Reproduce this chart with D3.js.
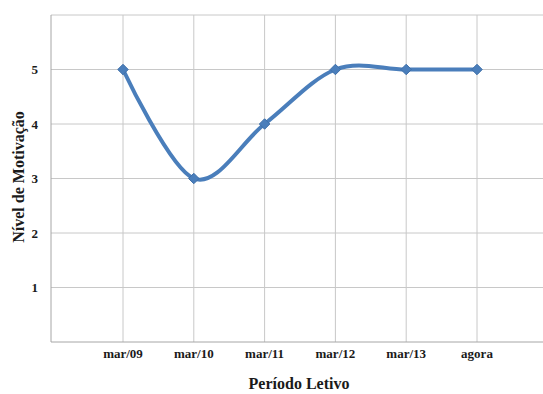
<!DOCTYPE html>
<html>
<head>
<meta charset="utf-8">
<script src="https://cdn.jsdelivr.net/npm/d3@7"></script>
<style>
  html, body { margin: 0; padding: 0; background: #fff; }
  svg { display: block; }
</style>
</head>
<body>
<svg id="chart" width="543" height="394"></svg>
<script>
// Motivation level per school period
const periods = ["mar/09", "mar/10", "mar/11", "mar/12", "mar/13", "agora"];
const motivation = [5, 3, 4, 5, 5, 5];
const yTicks = [1, 2, 3, 4, 5];
const yMax = 6;

const FONT = "Liberation Serif";
const svg = d3.select("#chart");
const plot = { left: 51, top: 15, right: 560, bottom: 342 };

const x = d3.scalePoint().domain(periods).range([123, 477]);
const y = d3.scaleLinear().domain([0, yMax]).range([plot.bottom, plot.top]);

function label(sel) {
  return sel.attr("font-family", FONT).attr("font-weight", "bold").attr("fill", "#1a1a1a");
}

// horizontal gridlines (including the top line at the max value)
svg.append("g")
  .selectAll("line")
  .data(yTicks.concat([yMax]))
  .join("line")
  .attr("x1", plot.left).attr("x2", plot.right)
  .attr("y1", d => y(d)).attr("y2", d => y(d))
  .attr("stroke", "#c8c8c8").attr("stroke-width", 1);

// vertical gridlines at each category
svg.append("g")
  .selectAll("line")
  .data(periods)
  .join("line")
  .attr("x1", d => x(d)).attr("x2", d => x(d))
  .attr("y1", plot.top).attr("y2", plot.bottom)
  .attr("stroke", "#c8c8c8").attr("stroke-width", 1);

// axis lines
svg.append("line")
  .attr("x1", plot.left).attr("x2", plot.left)
  .attr("y1", plot.top).attr("y2", plot.bottom)
  .attr("stroke", "#a6a6a6");
svg.append("line")
  .attr("x1", plot.left).attr("x2", plot.right)
  .attr("y1", plot.bottom).attr("y2", plot.bottom)
  .attr("stroke", "#a6a6a6");

// y tick labels
svg.append("g")
  .selectAll("text")
  .data(yTicks)
  .join("text")
  .call(label)
  .attr("x", 38).attr("y", d => y(d))
  .attr("dy", "0.35em")
  .attr("text-anchor", "end")
  .attr("font-size", 13)
  .text(d => d);

// x tick labels
svg.append("g")
  .selectAll("text")
  .data(periods)
  .join("text")
  .call(label)
  .attr("x", d => x(d)).attr("y", 358)
  .attr("text-anchor", "middle")
  .attr("font-size", 13)
  .text(d => d);

// axis titles
svg.append("text")
  .call(label)
  .attr("x", 299).attr("y", 389)
  .attr("text-anchor", "middle")
  .attr("font-size", 16)
  .text("Período Letivo");

svg.append("text")
  .call(label)
  .attr("transform", "translate(24,177) rotate(-90)")
  .attr("text-anchor", "middle")
  .attr("font-size", 16)
  .text("Nível de Motivação");

// smoothed series line
const pts = periods.map((p, i) => [x(p), y(motivation[i])]);
svg.append("path")
  .attr("d", d3.line().curve(d3.curveCardinal.tension(0))(pts))
  .attr("fill", "none")
  .attr("stroke", "#4a7ebb")
  .attr("stroke-width", 4)
  .attr("stroke-linecap", "round");

// diamond markers
svg.append("g")
  .selectAll("path")
  .data(pts)
  .join("path")
  .attr("transform", d => `translate(${d[0]},${d[1]})`)
  .attr("d", d3.symbol().type(d3.symbolDiamond2).size(70)())
  .attr("fill", "#4a7ebb")
  .attr("stroke", "#3e6fa9")
  .attr("stroke-width", 1);
</script>
</body>
</html>
